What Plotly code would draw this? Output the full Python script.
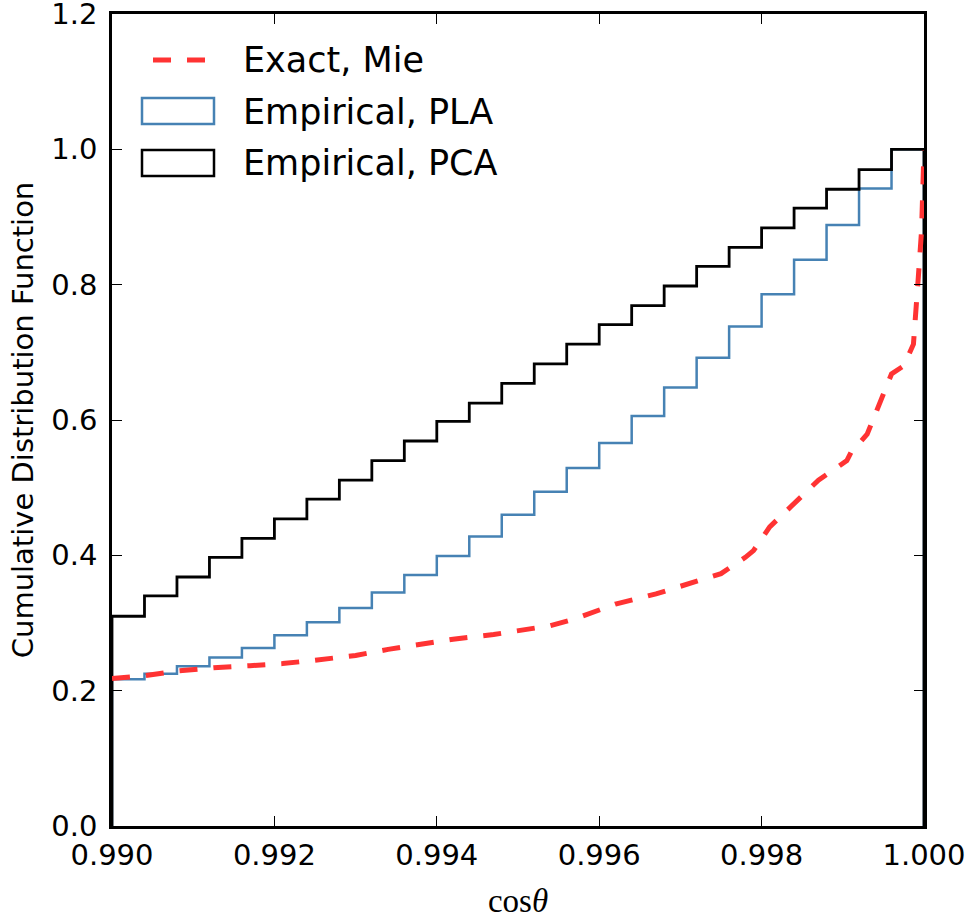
import plotly.graph_objects as go

# ---- data ----
bin_edges = [0.9900, 0.9904, 0.9908, 0.9912, 0.9916, 0.9920, 0.9924, 0.9928, 0.9932,
             0.9936, 0.9940, 0.9944, 0.9948, 0.9952, 0.9956, 0.9960, 0.9964, 0.9968,
             0.9972, 0.9976, 0.9980, 0.9984, 0.9988, 0.9992, 0.9996, 1.0000]

cdf_pla = [0.217, 0.225, 0.236, 0.249, 0.263, 0.282, 0.301, 0.322, 0.345, 0.371,
           0.399, 0.428, 0.460, 0.494, 0.529, 0.566, 0.606, 0.648, 0.692, 0.738,
           0.786, 0.837, 0.888, 0.942, 1.000]

cdf_pca = [0.310, 0.340, 0.368, 0.397, 0.425, 0.454, 0.483, 0.511, 0.540, 0.569,
           0.598, 0.625, 0.654, 0.683, 0.712, 0.741, 0.769, 0.798, 0.827, 0.855,
           0.884, 0.913, 0.941, 0.970, 1.000]

mie_cos = [0.9900, 0.9904, 0.9908, 0.99125, 0.9917, 0.9921, 0.9925, 0.9930, 0.9934,
           0.9938, 0.9942, 0.9947, 0.9950, 0.9954, 0.9957, 0.9962, 0.9967, 0.9971,
           0.9975, 0.9978, 0.9979, 0.9981, 0.9984, 0.9987, 0.99905, 0.9991, 0.9993,
           0.99946, 0.9996, 0.99975, 0.99987, 0.99993, 0.99997, 1.0000]
mie_cdf = [0.218, 0.222, 0.229, 0.234, 0.237, 0.240, 0.245, 0.252, 0.261,
           0.269, 0.276, 0.283, 0.289, 0.296, 0.306, 0.328, 0.343, 0.358,
           0.373, 0.397, 0.407, 0.442, 0.476, 0.511, 0.540, 0.552, 0.579,
           0.629, 0.668, 0.680, 0.712, 0.811, 0.880, 1.000]

x_ticks = [0.990, 0.992, 0.994, 0.996, 0.998, 1.000]
y_ticks = [0.0, 0.2, 0.4, 0.6, 0.8, 1.0, 1.2]
y_tick_text = ["0.0", "0.2", "0.4", "0.6", "0.8", "1.0", "1.2"]
x_tick_text = ["0.990", "0.992", "0.994", "0.996", "0.998", "1.000"]

legend_labels = ["Exact, Mie", "Empirical, PLA", "Empirical, PCA"]

RED = "#ff3333"
BLUE = "#4682b4"
BLACK = "#000000"


def step_xy(edges, vals):
    xs = [edges[0]] + list(edges) + [edges[-1]]
    ys = [0.0] + list(vals) + [vals[-1], 0.0]
    return xs, ys


fig = go.Figure()

xs, ys = step_xy(bin_edges, cdf_pla)
fig.add_trace(go.Scatter(x=xs, y=ys, mode="lines", line_shape="hv", name=legend_labels[1],
                         line=dict(color=BLUE, width=2.5), showlegend=False))
xs, ys = step_xy(bin_edges, cdf_pca)
fig.add_trace(go.Scatter(x=xs, y=ys, mode="lines", line_shape="hv", name=legend_labels[2],
                         line=dict(color=BLACK, width=2.8), showlegend=False))
fig.add_trace(go.Scatter(x=mie_cos, y=mie_cdf, mode="lines", name=legend_labels[0],
                         line=dict(color=RED, width=5, dash="18px,16px"), showlegend=False))

# ---- layout geometry (pixels) ----
W, H = 972, 921
L, R, T, B = 112, 924, 14, 826


def fx(px):
    return (px - L) / (R - L)


def fy(py):
    return (B - py) / (B - T)


shapes = [
    dict(type="line", xref="paper", yref="paper", x0=fx(153), x1=fx(214), y0=fy(60), y1=fy(60),
         line=dict(color=RED, width=5, dash="18px,16px")),
    dict(type="rect", xref="paper", yref="paper", x0=fx(142), x1=fx(214), y0=fy(124), y1=fy(98),
         line=dict(color=BLUE, width=2.5), fillcolor="rgba(0,0,0,0)"),
    dict(type="rect", xref="paper", yref="paper", x0=fx(142), x1=fx(214), y0=fy(176), y1=fy(150),
         line=dict(color=BLACK, width=2.5), fillcolor="rgba(0,0,0,0)"),
]
annotations = []
for lab, cy in zip(legend_labels, [60, 112, 163]):
    annotations.append(dict(text=lab, xref="paper", yref="paper", x=fx(241), y=fy(cy),
                            xanchor="left", yanchor="middle", showarrow=False,
                            font=dict(family="DejaVu Sans", size=35, color="black")))

axis_common = dict(showline=True, linecolor="black", linewidth=2.5, mirror="allticks",
                   ticks="inside", ticklen=10, tickwidth=1.2, tickcolor="black",
                   showgrid=False, zeroline=False, automargin=False,
                   tickfont=dict(family="DejaVu Sans", size=29, color="black"))

fig.update_layout(
    width=W, height=H,
    margin=dict(l=L, r=W - R, t=T, b=H - B, autoexpand=False),
    paper_bgcolor="white", plot_bgcolor="white",
    shapes=shapes, annotations=annotations,
    xaxis=dict(range=[0.990, 1.000], tickmode="array", tickvals=x_ticks, ticktext=x_tick_text,
               ticklabelstandoff=1,
               title=dict(text="cos<i>θ</i>", standoff=19,
                          font=dict(family="Liberation Serif", size=33, color="black")),
               **axis_common),
    yaxis=dict(range=[0.0, 1.2], tickmode="array", tickvals=y_ticks, ticktext=y_tick_text,
               ticklabelstandoff=6, ticklabeloverflow="allow",
               title=dict(text="Cumulative Distribution Function", standoff=10,
                          font=dict(family="DejaVu Sans", size=29, color="black")),
               **axis_common),
)

fig.write_html("out.html", config={"displayModeBar": False},
               post_script="document.body.style.margin='0';document.body.style.padding='0';")
